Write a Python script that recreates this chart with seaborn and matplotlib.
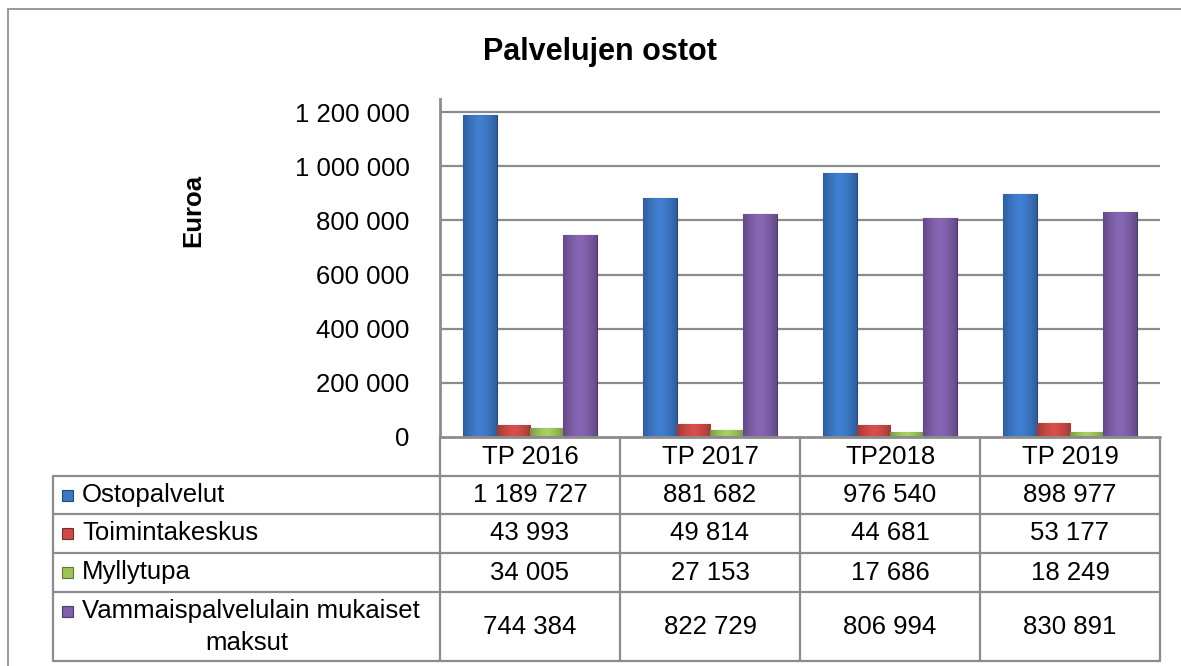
import numpy as np
import pandas as pd
import matplotlib
matplotlib.use("Agg")
import matplotlib.pyplot as plt
from matplotlib.lines import Line2D
from matplotlib.patches import Rectangle
from matplotlib.colors import to_rgb
import seaborn as sns

# ---- data ----
years = ["TP 2016", "TP 2017", "TP2018", "TP 2019"]
series = ["Ostopalvelut", "Toimintakeskus", "Myllytupa", "Vammaispalvelulain mukaiset maksut"]
ostopalvelut = [1189727, 881682, 976540, 898977]
toimintakeskus = [43993, 49814, 44681, 53177]
myllytupa = [34005, 27153, 17686, 18249]
vammais = [744384, 822729, 806994, 830891]
title = "Palvelujen ostot"
ylabel = "Euroa"
yticks = [0, 200000, 400000, 600000, 800000, 1000000, 1200000]
colors = ["#3d78c6", "#cc4a46", "#9dc45a", "#8060ab"]

values = [ostopalvelut, toimintakeskus, myllytupa, vammais]
df = pd.DataFrame({
    "year": [y for s in values for y in years],
    "series": [n for n, s in zip(series, values) for _ in s],
    "value": [v for s in values for v in s],
})

def fmt(v):
    return f"{int(v):,}".replace(",", " ")

sns.set_theme(style="white")
plt.rcParams["font.family"] = ["Liberation Sans", "DejaVu Sans"]
plt.rcParams["text.color"] = "black"
plt.rcParams["ytick.color"] = "black"
plt.rcParams["ytick.labelcolor"] = "black"

W, H = 1181, 666
fig = plt.figure(figsize=(W / 100, H / 100), dpi=100)

def fx(px):
    return px / W

def fy(py):
    return 1 - py / H

ax_left, ax_right, ax_top, ax_bottom = 440, 1160, 99, 437
ax = fig.add_axes([fx(ax_left), fy(ax_bottom), fx(ax_right - ax_left), (ax_bottom - ax_top) / H])

sns.barplot(data=df, x="year", y="value", hue="series", hue_order=series,
            order=years, palette=colors, width=0.74, gap=0, ax=ax,
            legend=False, errorbar=None, saturation=1)

ymax = 1200000 * (ax_bottom - ax_top) / (ax_bottom - 112)
ax.set_ylim(0, ymax)
ax.set_yticks(yticks)
ax.set_yticklabels([fmt(t) for t in yticks], fontsize=18.5, color="black")
ax.tick_params(axis="y", length=0, pad=22)
ax.set_xticks([])
ax.set_xlabel("")
ax.set_ylabel("")
ax.set_xlim(-0.5, 3.5)
for s in ["top", "right", "bottom"]:
    ax.spines[s].set_visible(False)
ax.spines["left"].set_color("#8c8c8c")
ax.spines["left"].set_linewidth(2)
for t in yticks[1:]:
    ax.axhline(t, color="#8c8c8c", lw=1.6, zorder=0)

# gradient shading on bars
for patch, base in zip(ax.patches, [c for c in colors for _ in years]):
    x0, y0 = patch.get_x(), patch.get_y()
    w, h = patch.get_width(), patch.get_height()
    if h <= 0:
        continue
    rgb = np.array(to_rgb(base))
    prof = np.linspace(-1, 1, 64)
    shade = 1.0 - 0.28 * np.abs(prof) ** 1.5 + 0.06
    img = np.clip(rgb[None, None, :] * shade[None, :, None], 0, 1)
    patch.set_edgecolor(tuple(np.clip(rgb * 0.6, 0, 1)))
    patch.set_linewidth(0.8)
    im = ax.imshow(img, extent=[x0, x0 + w, y0, y0 + h], aspect="auto",
                   zorder=patch.get_zorder() + 0.1, interpolation="bilinear")
    im.set_clip_path(patch)
ax.set_xlim(-0.5, 3.5)
ax.set_ylim(0, ymax)

# title and y label
fig.text(fx(600), fy(52), title, ha="center", va="center", fontsize=22, fontweight="bold")
fig.text(fx(193), fy(210), ylabel, ha="center", va="center", rotation=90, fontsize=18.5, fontweight="bold")

# outer border
gc = "#8c8c8c"
def hline(y, x0, x1, lw=1.6, color=gc):
    fig.add_artist(Line2D([fx(x0), fx(x1)], [fy(y), fy(y)], color=color, lw=lw))
def vline(x, y0, y1, lw=1.6, color=gc):
    fig.add_artist(Line2D([fx(x), fx(x)], [fy(y0), fy(y1)], color=color, lw=lw))

hline(9, 8, W, lw=1.4, color="#999999")
vline(8, 9, H, lw=1.4, color="#999999")

# data table
col_x = [440, 620, 800, 980, 1160]
row_y = [437, 476, 514, 553, 592, 661]
tab_left = 53
hline(row_y[0], col_x[0], col_x[-1], lw=2)
for y in row_y[1:]:
    hline(y, tab_left, col_x[-1])
for x in col_x:
    vline(x, row_y[0], row_y[-1])
vline(tab_left, row_y[1], row_y[-1])

for j, yr in enumerate(years):
    cx = (col_x[j] + col_x[j + 1]) / 2
    fig.text(fx(cx), fy((row_y[0] + row_y[1]) / 2), yr, ha="center", va="center", fontsize=18.5)

for i, (name, vals, c) in enumerate(zip(series, values, colors)):
    ytop, ybot = row_y[i + 1], row_y[i + 2]
    cy = (ytop + ybot) / 2
    for j, v in enumerate(vals):
        cx = (col_x[j] + col_x[j + 1]) / 2
        fig.text(fx(cx), fy(cy), fmt(v), ha="center", va="center", fontsize=18.5)
    # legend swatch + label
    if i < 3:
        sy = cy
        fig.text(fx(82), fy(cy), name, ha="left", va="center", fontsize=18.5)
    else:
        sy = ytop + 19
        words = name.rsplit(" ", 1)
        fig.text(fx(82), fy(ytop + 19), words[0], ha="left", va="center", fontsize=18.5)
        fig.text(fx(247), fy(ytop + 51), words[1], ha="center", va="center", fontsize=18.5)
    rgb = np.array(to_rgb(c))
    fig.add_artist(Rectangle((fx(62), fy(sy + 5.5)), fx(11), 11 / H, facecolor=c,
                             edgecolor=tuple(rgb * 0.6), lw=0.8, transform=fig.transFigure))

fig.savefig("out.png", dpi=100, facecolor="white")
